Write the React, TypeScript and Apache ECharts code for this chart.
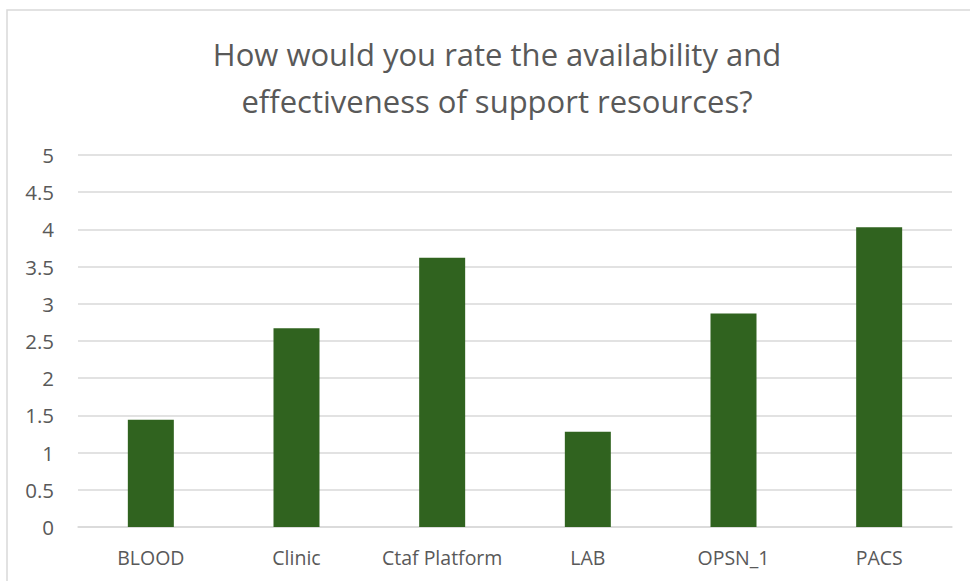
import React, { useEffect, useRef } from "react";
import * as echarts from "echarts";

const categories = ["BLOOD", "Clinic", "Ctaf Platform", "LAB", "OPSN_1", "PACS"];
const values = [1.44, 2.67, 3.62, 1.28, 2.87, 4.03];
const titleLines = [
  "How would you rate the availability and",
  "effectiveness of support resources?",
];

export default function App() {
  const ref = useRef<HTMLDivElement>(null);
  useEffect(() => {
    document.body.style.margin = "0";
    const chart = echarts.init(ref.current!, null, { renderer: "svg" });
    const font = "'Open Sans', 'Noto Sans', sans-serif";
    chart.setOption({
      animation: false,
      backgroundColor: "#ffffff",
      grid: { left: 78, right: 18, top: 155, bottom: 54, containLabel: false },
      graphic: [
        {
          type: "rect",
          shape: { x: 7, y: 10, width: 990, height: 600 },
          style: { fill: "none", stroke: "#d9d9d9", lineWidth: 1.5 },
          silent: true,
        },
        {
          type: "text",
          x: 497,
          y: 30,
          style: {
            text: titleLines.join("\n"),
            fontFamily: font,
            fontSize: 31,
            lineHeight: 47,
            fill: "#595959",
            align: "center",
            verticalAlign: "top",
          },
        },
      ],
      xAxis: {
        type: "category",
        data: categories,
        axisLine: { show: true, lineStyle: { color: "#d9d9d9", width: 1.5 } },
        axisTick: { show: false },
        axisLabel: { color: "#595959", fontSize: 19.5, fontFamily: font, margin: 20, interval: 0 },
      },
      yAxis: {
        type: "value",
        min: 0,
        max: 5,
        interval: 0.5,
        axisLine: { show: false },
        axisTick: { show: false },
        splitLine: { lineStyle: { color: "#d9d9d9", width: 1.5 } },
        axisLabel: { color: "#595959", fontSize: 20.5, fontFamily: font, margin: 24 },
      },
      series: [
        {
          type: "bar",
          data: values,
          barWidth: 46,
          itemStyle: { color: "#30631f" },
        },
      ],
    });
    return () => chart.dispose();
  }, []);
  return <div ref={ref} style={{ width: 970, height: 581 }} />;
}
